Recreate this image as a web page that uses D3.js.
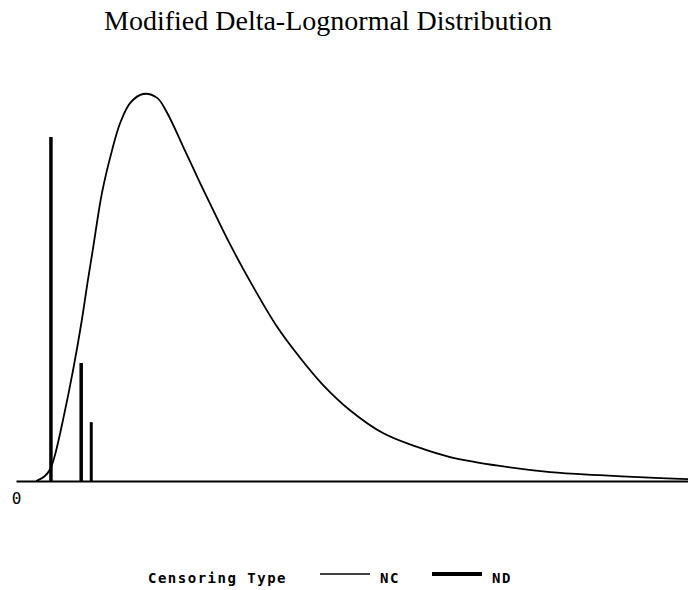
<!DOCTYPE html>
<html>
<head>
<meta charset="utf-8">
<script src="https://cdn.jsdelivr.net/npm/d3@7"></script>
<style>
  body { margin: 0; background: #fff; }
  svg { display: block; }
</style>
</head>
<body>
<div id="chart"></div>
<script>
// data (x in arbitrary units 0..100, density scaled so peak ~ 1)
const curveX = [3.0, 4.3, 5.1, 5.8, 7.0, 8.5, 9.8, 10.7, 11.5, 12.8, 14.3, 15.5, 17.0, 18.9, 21.0, 22.5, 24.9, 27.4, 29.9, 31.9, 34.8, 38.8, 42.3, 45.7, 49.7, 54.6, 59.7, 64.6, 72.0, 79.5, 86.9, 95.1, 100];
const curveY = [0, 0.013, 0.031, 0.067, 0.158, 0.287, 0.416, 0.519, 0.605, 0.745, 0.855, 0.925, 0.977, 1.0, 0.99, 0.951, 0.863, 0.77, 0.68, 0.61, 0.517, 0.4, 0.318, 0.248, 0.183, 0.124, 0.088, 0.062, 0.039, 0.023, 0.015, 0.008, 0.005];

const ndX = [5.2, 9.7, 11.2];
const ndY = [0.889, 0.305, 0.152];
const ndWidth = [3.5, 3.5, 3];

const xTicks = [0];
const chartTitle = 'Modified Delta-Lognormal Distribution';
const legendTitle = 'Censoring Type';
const legendLabels = ['NC', 'ND'];

// Variables
const width = 688;
const height = 590;
const margin = { top: 94, right: 0, bottom: 109, left: 16 };
const innerWidth = width - margin.left - margin.right;
const innerHeight = height - margin.top - margin.bottom;

const monoFont = '"DejaVu Sans Mono", monospace';

const svg = d3.select('#chart').append('svg')
    .attr('width', width)
    .attr('height', height);

const chartGroup = svg.append('g')
    .attr('transform', `translate(${margin.left}, ${margin.top})`);

const xScale = d3.scaleLinear().domain([0, 100]).range([0, innerWidth]);
const yScale = d3.scaleLinear().domain([0, 1]).range([innerHeight, 0]);

// x axis
const xAxis = d3.axisBottom(xScale)
    .tickValues(xTicks)
    .tickFormat(d3.format('d'))
    .tickSize(0)
    .tickSizeOuter(0)
    .tickPadding(12);

const xAxisGroup = chartGroup.append('g')
    .attr('transform', `translate(0, ${innerHeight})`)
    .call(xAxis);
xAxisGroup.select('.domain')
    .attr('stroke', '#000')
    .attr('stroke-width', 2);
xAxisGroup.selectAll('text')
    .attr('font-family', monoFont)
    .attr('font-size', 16)
    .attr('fill', '#000');

// NC curve
const points = curveX.map((x, i) => ({ x, y: curveY[i] }));
const line = d3.line()
    .x(d => xScale(d.x))
    .y(d => yScale(d.y))
    .curve(d3.curveCatmullRom.alpha(0.5));

chartGroup.append('path')
    .datum(points)
    .attr('d', line)
    .attr('fill', 'none')
    .attr('stroke', '#000')
    .attr('stroke-width', 1.8);

// ND spikes
const spikes = ndX.map((x, i) => ({ x, y: ndY[i], w: ndWidth[i] }));
chartGroup.selectAll('.spike').data(spikes)
    .enter().append('line')
        .attr('class', 'spike')
        .attr('x1', d => xScale(d.x))
        .attr('x2', d => xScale(d.x))
        .attr('y1', yScale(0))
        .attr('y2', d => yScale(d.y))
        .attr('stroke', '#000')
        .attr('stroke-width', d => d.w);

// title
svg.append('text')
    .text(chartTitle)
    .attr('x', 328)
    .attr('y', 30)
    .attr('text-anchor', 'middle')
    .attr('font-family', '"Liberation Serif", "Times New Roman", serif')
    .attr('font-size', 28)
    .attr('fill', '#000');

// legend
const legend = svg.append('g').attr('transform', 'translate(0, 574)');
legend.append('text')
    .text(legendTitle)
    .attr('x', 148)
    .attr('y', 9)
    .attr('font-family', monoFont)
    .attr('font-weight', 'bold')
    .attr('font-size', 14)
    .attr('letter-spacing', 1.5)
    .attr('fill', '#000');

const legendItems = [
    { label: legendLabels[0], x: 320, w: 1.5 },
    { label: legendLabels[1], x: 432, w: 4 }
];
const items = legend.selectAll('.item').data(legendItems)
    .enter().append('g')
        .attr('class', 'item')
        .attr('transform', d => `translate(${d.x}, 0)`);
items.append('line')
    .attr('x1', 0).attr('x2', 50)
    .attr('y1', 0).attr('y2', 0)
    .attr('stroke', '#000')
    .attr('stroke-width', d => d.w);
items.append('text')
    .text(d => d.label)
    .attr('x', 60)
    .attr('y', 9)
    .attr('font-family', monoFont)
    .attr('font-weight', 'bold')
    .attr('font-size', 14)
    .attr('letter-spacing', 1.5)
    .attr('fill', '#000');
</script>
</body>
</html>
